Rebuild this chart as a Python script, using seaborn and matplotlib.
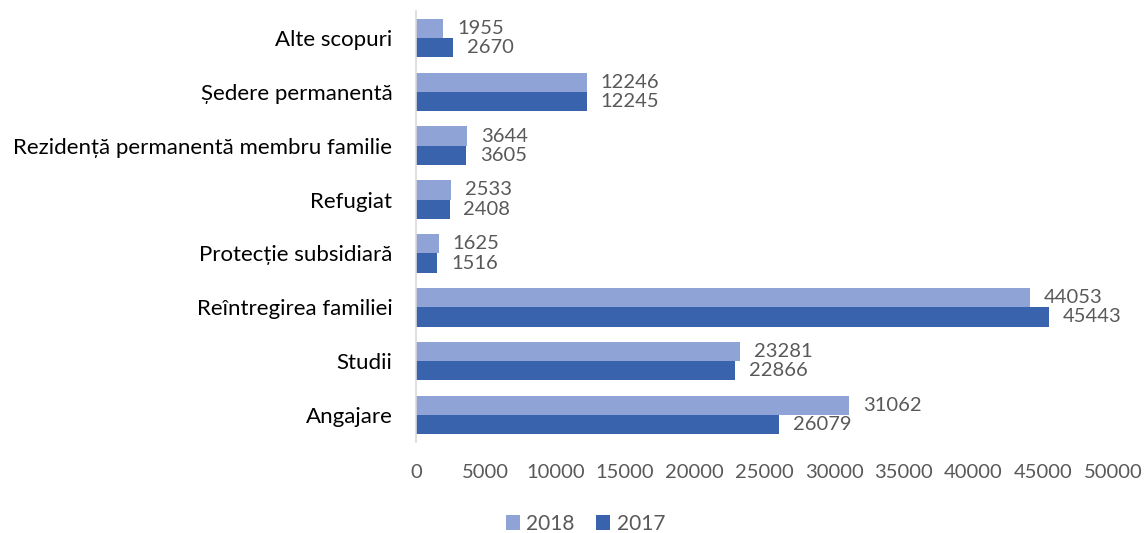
import numpy as np
import pandas as pd
import matplotlib
matplotlib.use("Agg")
import matplotlib.pyplot as plt
import seaborn as sns

# Data
categories = ["Alte scopuri", "Ședere permanentă", "Rezidență permanentă membru familie",
              "Refugiat", "Protecție subsidiară", "Reîntregirea familiei", "Studii", "Angajare"]
values_2018 = [1955, 12246, 3644, 2533, 1625, 44053, 23281, 31062]
values_2017 = [2670, 12245, 3605, 2408, 1516, 45443, 22866, 26079]
years = ["2018", "2017"]
xticks = list(range(0, 50001, 5000))

df = pd.DataFrame({
    "cat": categories * 2,
    "val": values_2018 + values_2017,
    "year": ["2018"] * len(categories) + ["2017"] * len(categories),
})

sns.set_theme(style="white")
plt.rcParams['font.family'] = ['Lato', 'DejaVu Sans']

text_grey = '#595959'
palette = {"2018": "#8FA3D6", "2017": "#3A63AD"}

fig = plt.figure(figsize=(11.46, 5.33), dpi=100)
ax = fig.add_axes([0.363, 0.171, 0.608, 0.808])

sns.barplot(data=df, x="val", y="cat", hue="year", hue_order=years, order=categories,
            palette=palette, orient="h", width=0.72, saturation=1, linewidth=0,
            ax=ax, legend=True)

# value labels
for cont in ax.containers:
    ax.bar_label(cont, fmt="%d", padding=10, fontsize=14.5, color=text_grey)

ax.set_xlim(0, 50000)
ax.set_xticks(xticks)
ax.set_xticklabels([str(t) for t in xticks], fontsize=14.5, color=text_grey)
ax.tick_params(axis='x', length=0, pad=16)
ax.tick_params(axis='y', length=0, labelsize=16, labelcolor='black', pad=17)
ax.set_xlabel("")
ax.set_ylabel("")

for s in ["top", "right", "bottom"]:
    ax.spines[s].set_visible(False)
ax.spines["left"].set_color("#D9D9D9")
ax.spines["left"].set_linewidth(1.2)

handles, labels = ax.get_legend_handles_labels()
ax.legend(handles, labels, loc="center", bbox_to_anchor=(0.243, -0.19),
          ncol=2, frameon=False, fontsize=15, labelcolor=text_grey,
          handlelength=0.7, handleheight=0.7, handletextpad=0.3, columnspacing=1.0)

fig.savefig("out.png", dpi=100)
